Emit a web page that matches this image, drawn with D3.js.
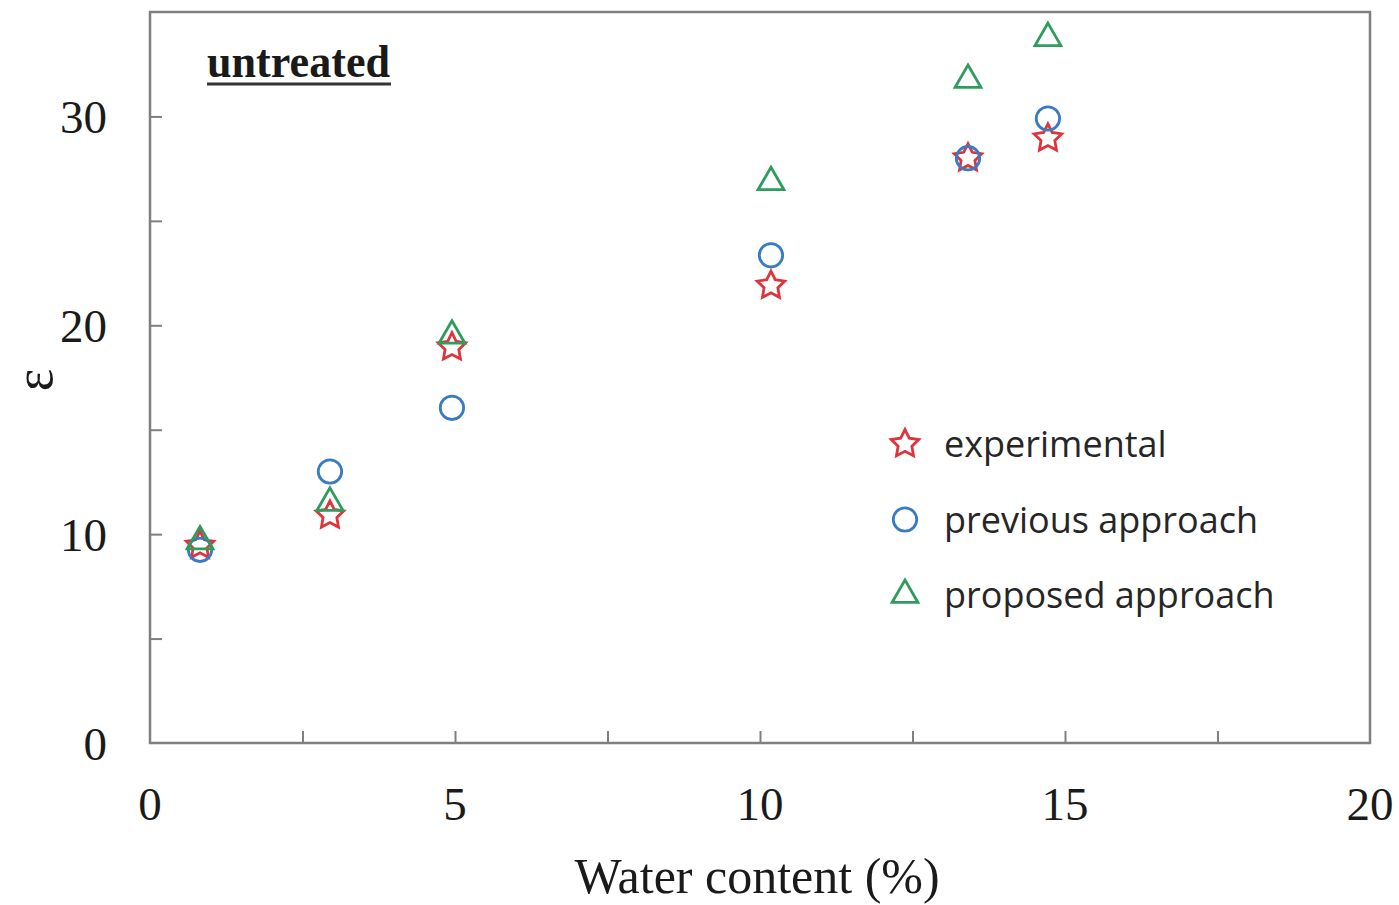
<!DOCTYPE html>
<meta charset="utf-8">
<title>untreated</title>
<style>
  body { margin: 0; background: #fff; }
  svg { display: block; }
</style>
<body>
<script src="https://cdn.jsdelivr.net/npm/d3@7"></script>
<script>

var width = 1399,
    height = 905;

// water content (%) for each sample
var water = [0.82, 2.95, 4.95, 10.18, 13.41, 14.72];

// permittivity values per series
var experimental = [9.45, 10.9, 18.95, 21.9, 28.0, 28.95];
var previous = [9.25, 13.0, 16.05, 23.35, 28.0, 29.9];
var proposed = [9.65, 11.5, 19.5, 26.85, 31.75, 33.75];

var seriesNames = ["experimental", "previous approach", "proposed approach"];
var xTicks = [0, 5, 10, 15, 20];
var yTicks = [0, 10, 20, 30];

var margin = {top: 12, right: 29, bottom: 162, left: 150};

var x = d3.scaleLinear().domain([0, 20]).range([margin.left, width - margin.right]);
var y = d3.scaleLinear().domain([0, 35]).range([height - margin.bottom, margin.top]);

// fat five-point star, like the spreadsheet marker
var starType = {
  draw: function(ctx, size) {
    var R = Math.sqrt(size), r = R * 0.5;
    for (var i = 0; i < 10; i++) {
      var a = -Math.PI / 2 + i * Math.PI / 5,
          rr = i % 2 ? r : R;
      if (i === 0) ctx.moveTo(rr * Math.cos(a), rr * Math.sin(a));
      else ctx.lineTo(rr * Math.cos(a), rr * Math.sin(a));
    }
    ctx.closePath();
  }
};

var series = [
  {name: seriesNames[0], values: experimental, color: "#de343d", symbol: d3.symbol().type(starType).size(210)},
  {name: seriesNames[1], values: previous, color: "#3a7cbf", symbol: d3.symbol().type(d3.symbolCircle).size(430)},
  {name: seriesNames[2], values: proposed, color: "#2e9c5c", symbol: d3.symbol().type(d3.symbolTriangle).size(290)}
];

var svg = d3.select("body").append("svg")
    .attr("width", width)
    .attr("height", height);

var axisColor = "#7f7f7f";
var serif = "'Liberation Serif', 'Times New Roman', serif";

// frame
svg.append("rect")
    .attr("x", x(0))
    .attr("y", y(35))
    .attr("width", x(20) - x(0))
    .attr("height", y(0) - y(35))
    .attr("fill", "none")
    .attr("stroke", axisColor)
    .attr("stroke-width", 2.5);

// inward ticks
var xAxis = d3.axisBottom(x).tickValues(d3.range(2.5, 20, 2.5)).tickSize(-12).tickFormat("");
svg.append("g")
    .attr("transform", "translate(0," + y(0) + ")")
    .call(xAxis)
    .call(function(g) { g.select(".domain").remove(); })
    .selectAll("line").attr("stroke", axisColor).attr("stroke-width", 2);

var yAxis = d3.axisLeft(y).tickValues(d3.range(5, 35, 5)).tickSize(-12).tickFormat("");
svg.append("g")
    .attr("transform", "translate(" + x(0) + ",0)")
    .call(yAxis)
    .call(function(g) { g.select(".domain").remove(); })
    .selectAll("line").attr("stroke", axisColor).attr("stroke-width", 2);

// tick labels
svg.append("g").selectAll("text")
    .data(xTicks)
  .enter().append("text")
    .attr("x", function(d) { return x(d); })
    .attr("y", 820)
    .attr("text-anchor", "middle")
    .style("font", "47px " + serif)
    .attr("fill", "#1a1a1a")
    .text(function(d) { return d; });

svg.append("g").selectAll("text")
    .data(yTicks)
  .enter().append("text")
    .attr("x", 107)
    .attr("y", function(d) { return y(d) + 17; })
    .attr("text-anchor", "end")
    .style("font", "47px " + serif)
    .attr("fill", "#1a1a1a")
    .text(function(d) { return d; });

// axis titles
svg.append("text")
    .attr("x", 757)
    .attr("y", 893)
    .attr("text-anchor", "middle")
    .style("font", "50px " + serif)
    .attr("fill", "#1a1a1a")
    .text("Water content (%)");

svg.append("text")
    .attr("transform", "translate(52,380) rotate(-90)")
    .attr("text-anchor", "middle")
    .style("font", "54px " + serif)
    .attr("fill", "#1a1a1a")
    .text("ε");

// panel label
svg.append("text")
    .attr("x", 207)
    .attr("y", 77)
    .attr("textLength", 183)
    .attr("lengthAdjust", "spacingAndGlyphs")
    .style("font", "bold 46px " + serif)
    .attr("fill", "#1a1a1a")
    .text("untreated");
svg.append("line")
    .attr("x1", 207).attr("x2", 391)
    .attr("y1", 84).attr("y2", 84)
    .attr("stroke", "#333")
    .attr("stroke-width", 3);

// markers
series.forEach(function(s) {
  svg.append("g").selectAll("path")
      .data(s.values)
    .enter().append("path")
      .attr("transform", function(d, i) { return "translate(" + x(water[i]) + "," + y(d) + ")"; })
      .attr("d", s.symbol)
      .attr("fill", "none")
      .attr("stroke", s.color)
      .attr("stroke-width", 2.8);
});

// legend
var legend = svg.append("g").selectAll("g")
    .data(series)
  .enter().append("g")
    .attr("transform", function(d, i) { return "translate(905," + (444 + i * 75.5) + ")"; });

legend.append("path")
    .attr("d", function(d) { return d.symbol(); })
    .attr("fill", "none")
    .attr("stroke", function(d) { return d.color; })
    .attr("stroke-width", 2.8);

legend.append("text")
    .attr("x", 39)
    .attr("y", 13)
    .style("font", "36px 'Open Sans', sans-serif")
    .attr("fill", "#262626")
    .text(function(d) { return d.name; });

</script>
</body>
